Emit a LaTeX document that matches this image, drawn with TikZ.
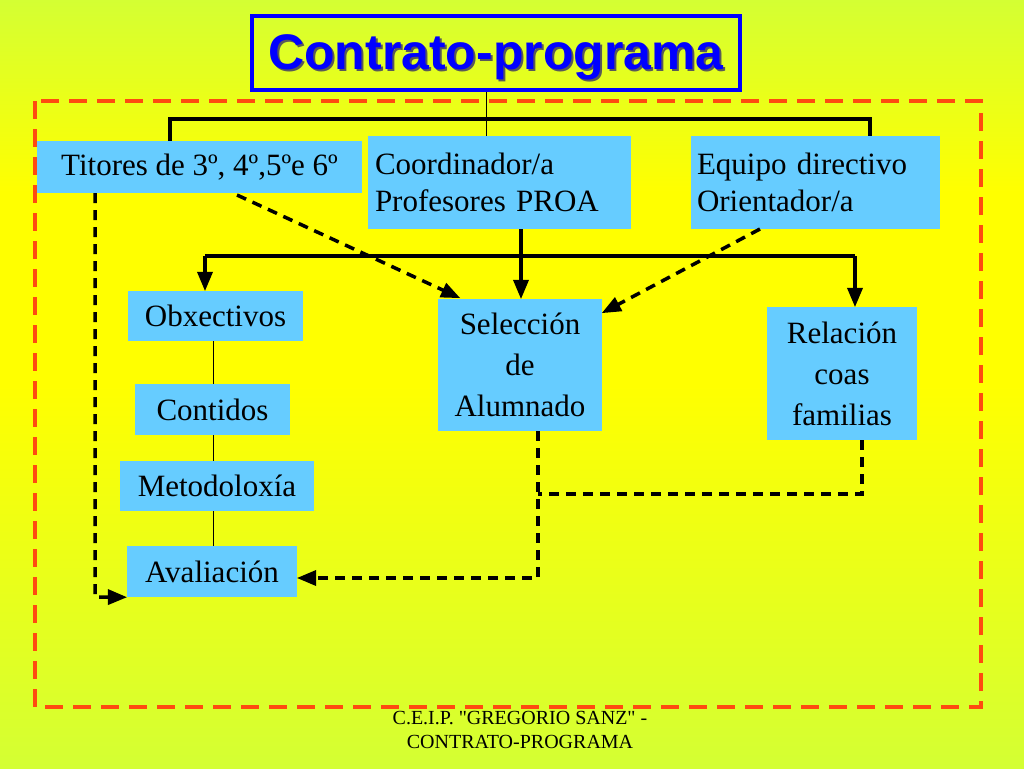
\documentclass[tikz,border=0pt]{standalone}
\usepackage{fontspec}
\setmainfont{Liberation Serif}
\newfontfamily\titlefont{Liberation Sans}
\newfontfamily\footfont{Liberation Serif}
\usetikzlibrary{arrows,positioning,calc}
\definecolor{lime}{HTML}{D4FF33}
\definecolor{boxblue}{HTML}{66CCFF}
\definecolor{frame}{HTML}{FF4A10}
\begin{document}
\begin{tikzpicture}[x=1pt,y=-1pt,
    box/.style={fill=boxblue,inner sep=0pt,font=\fontsize{31}{37}\selectfont,align=center},
    thick line/.style={line width=3.5pt},
    dash line/.style={line width=3.5pt,dash pattern=on 10pt off 7pt},
    tip/.style={-triangle 45}]
    % background
    \shade[top color=lime,bottom color=yellow,middle color=yellow] (0,0) rectangle (1024,384);
    \shade[top color=yellow,bottom color=lime] (0,384) rectangle (1024,768);
    \useasboundingbox (0,0) rectangle (1024,768);
    \draw[frame,line width=4pt,dash pattern=on 18pt off 10pt] (35,101) rectangle (981,707);
    % title
    \node[draw=blue,line width=3.5pt,minimum width=488pt,minimum height=74pt] (title) at (496,53) {};
    \node[text=gray!70!black,font=\titlefont\bfseries\fontsize{50}{56}\selectfont] at (498,59) {Contrato-programa};
    \node[text=blue,font=\titlefont\bfseries\fontsize{50}{56}\selectfont] at (496,57) {Contrato-programa};
    % boxes
    \node[box,minimum width=325pt,minimum height=52pt] (tit) at (199.5,167) {Titores de 3º, 4º,5ºe 6º};
    \node[box,minimum width=263pt,minimum height=93pt,text width=249pt,align=left] (coord) at (499.5,182.5) {Coordinador/a\\Profesores PROA};
    \node[box,minimum width=249pt,minimum height=93pt,text width=237pt,align=left] (equip) at (815.5,182.5) {Equipo directivo\\Orientador/a};
    \node[box,minimum width=175pt,minimum height=50pt] (obx) at (215.5,316) {Obxectivos};
    \node[box,minimum width=155pt,minimum height=51pt] (cont) at (212.5,409.5) {Contidos};
    \node[box,minimum width=194pt,minimum height=50pt] (meto) at (217,486) {Metodoloxía};
    \node[box,minimum width=170pt,minimum height=51pt] (aval) at (212,571.5) {Avaliación};
    \node[box,minimum width=164pt,minimum height=132pt,font=\fontsize{31}{41}\selectfont] (sel) at (520,365) {Selección\\de\\Alumnado};
    \node[box,minimum width=150pt,minimum height=133pt,font=\fontsize{31}{41}\selectfont] (rel) at (842,373.5) {Relación\\coas\\familias};
    % connectors
    \draw[line width=1pt] (title.south -| 486,0) -- (coord.north -| 486,0);
    \draw[thick line] (tit.north -| 170,0) -- (170,119) -- (870,119) -- (equip.north -| 870,0);
    \draw[thick line,tip] (coord.south -| 521,0) -- (sel.north -| 521,0);
    \draw[thick line,tip] (205,256) -- (obx.north -| 205,0);
    \draw[thick line] (205,256) -- (855,256);
    \draw[thick line,tip] (855,256) -- (rel.north -| 855,0);
    \draw[line width=0.8pt] (obx.south -| 213,0) -- (cont.north -| 213,0)
        (cont.south -| 213,0) -- (meto.north -| 213,0)
        (meto.south -| 213,0) -- (aval.north -| 213,0);
    \draw[dash line,tip] (237,195) -- (460,298);
    \draw[dash line,tip] (760,229) -- (602,313);
    \draw[dash line,tip] (tit.south -| 95,0) -- (95,597) -- (aval.south west);
    \draw[dash line,tip] (sel.south -| 538,0) -- (538,578) -- (aval.east |- 0,578);
    \draw[dash line] (rel.south -| 862,0) -- (862,494) -- (538,494);
    % footer
    \node[align=center,font=\footfont\fontsize{20}{24}\selectfont] (foot) at (520,730) {C.E.I.P. "GREGORIO SANZ" -\\CONTRATO-PROGRAMA};
\end{tikzpicture}
\end{document}
